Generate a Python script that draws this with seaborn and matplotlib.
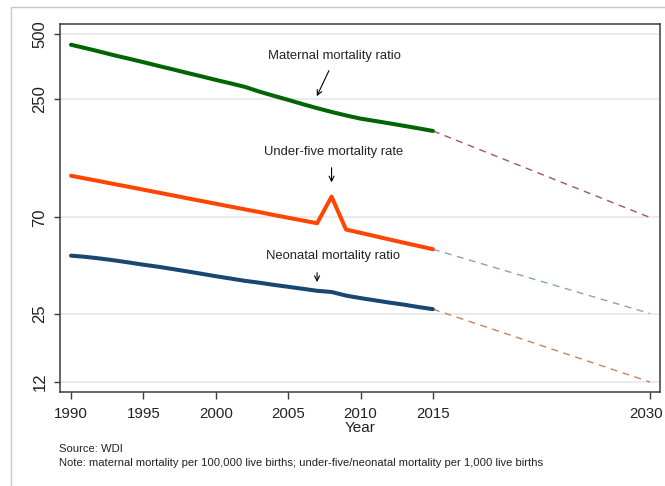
import matplotlib
matplotlib.use("Agg")
import matplotlib.pyplot as plt
import matplotlib.transforms as mtransforms
import pandas as pd
import seaborn as sns
from matplotlib.patches import Rectangle
from matplotlib.ticker import FixedLocator, FixedFormatter, NullLocator

# Observed series, 1990-2015
years = list(range(1990, 2016))
maternal = [446, 430, 414, 398, 384, 370, 356, 343, 330, 318,
            306, 295, 284, 270, 258, 247, 236, 226, 217, 209,
            202, 197, 192, 187, 182, 177]
under_five = [109.5, 106.3, 103.2, 100.1, 97.2, 94.3, 91.5, 88.8, 86.1, 83.6,
              81.1, 78.7, 76.4, 74.2, 71.9, 69.8, 67.8, 65.8, 87.5, 61.5,
              59.4, 57.3, 55.3, 53.4, 51.6, 49.8]
neonatal = [46.5, 45.9, 45.1, 44.2, 43.2, 42.2, 41.3, 40.3, 39.3, 38.3,
            37.3, 36.4, 35.5, 34.8, 34.0, 33.3, 32.6, 31.9, 31.5, 30.3,
            29.5, 28.8, 28.1, 27.5, 26.8, 26.2]

# 2030 targets
target_year = 2030
maternal_target = 70
under_five_target = 25
neonatal_target = 12

y_ticks = [12, 25, 70, 250, 500]
x_ticks = [1990, 1995, 2000, 2005, 2010, 2015, 2030]

series_names = ["Maternal", "Under-five", "Neonatal"]
series_values = [maternal, under_five, neonatal]
series_targets = [maternal_target, under_five_target, neonatal_target]
solid_colors = ["#006400", "#ff4500", "#1a476f"]
dashed_colors = ["#a3575c", "#8aa89d", "#c8835f"]

sns.set_style("ticks")
plt.rcParams["font.family"] = ["Liberation Sans", "DejaVu Sans"]

fig = plt.figure(figsize=(6.65, 4.86), dpi=100)
ax = fig.add_axes([60 / 665, 1 - 392 / 486, 600 / 665, 368 / 486])

observed = pd.DataFrame({
    "Year": years * 3,
    "value": maternal + under_five + neonatal,
    "series": sum([[n] * len(years) for n in series_names], []),
})

for name, vals, tgt, dcol in zip(series_names, series_values, series_targets, dashed_colors):
    proj = pd.DataFrame({"Year": [years[-1], target_year], "value": [vals[-1], tgt]})
    sns.lineplot(data=proj, x="Year", y="value", color=dcol, linewidth=1.0,
                 linestyle=(0, (5, 4)), ax=ax, zorder=2)

sns.lineplot(data=observed, x="Year", y="value", hue="series",
             hue_order=series_names, palette=solid_colors, linewidth=2.9,
             legend=False, ax=ax, zorder=3)

ax.set_yscale("log")
ax.set_ylim(10.78, 557)
ax.set_xlim(1989.24, 2030.69)
ax.yaxis.set_major_locator(FixedLocator(y_ticks))
ax.yaxis.set_major_formatter(FixedFormatter([str(t) for t in y_ticks]))
ax.yaxis.set_minor_locator(NullLocator())
ax.xaxis.set_major_locator(FixedLocator(x_ticks))
ax.xaxis.set_major_formatter(FixedFormatter([str(t) for t in x_ticks]))

ax.grid(axis="y", color="#e6e6e6", linewidth=1.1, zorder=0)
ax.grid(axis="x", visible=False)
ax.set_axisbelow(True)
for side in ["left", "bottom", "top", "right"]:
    ax.spines[side].set_color("#3c3c3c")
    ax.spines[side].set_linewidth(1.1)

ax.tick_params(axis="y", length=4, width=1, color="#3c3c3c", pad=5,
               labelsize=12, labelcolor="#222222")
ax.tick_params(axis="x", length=5, width=1, color="#3c3c3c", pad=6,
               labelsize=10.8, labelcolor="#222222")
for lab in ax.get_yticklabels():
    lab.set_rotation(90)
    lab.set_va("center")

# keep the last year label inside the canvas
last = ax.get_xticklabels()[-1]
last.set_transform(last.get_transform() +
                   mtransforms.ScaledTranslation(-4 / 100, 0, fig.dpi_scale_trans))

ax.set_ylabel("")
ax.set_xlabel("Year", fontsize=11, color="#222222", labelpad=0)

# Series labels with arrows
label_kw = dict(ha="center", va="center", fontsize=9.4, color="#222222")
arrow_kw = dict(arrowstyle="->", color="black", lw=0.8, mutation_scale=9)

ax.text(2008.17, 395, "Maternal mortality ratio", **label_kw)
ax.annotate("", xy=(2006.9, 250), xytext=(2007.9, 347), arrowprops=arrow_kw)

ax.text(2008.15, 141, "Under-five mortality rate", **label_kw)
ax.annotate("", xy=(2008.0, 99), xytext=(2008.0, 123), arrowprops=arrow_kw)

ax.text(2008.1, 46.3, "Neonatal mortality ratio", **label_kw)
ax.annotate("", xy=(2007.0, 34), xytext=(2007.0, 39.9), arrowprops=arrow_kw)

fig.text(59 / 665, 1 - 449 / 486, "Source: WDI", ha="left", va="center",
         fontsize=8.1, color="#222222")
fig.text(59 / 665, 1 - 463 / 486,
         "Note: maternal mortality per 100,000 live births; under-five/neonatal mortality per 1,000 live births",
         ha="left", va="center", fontsize=8.1, color="#222222")

# Thin frame around the graph region
fig.patches.append(Rectangle((11 / 665, -0.05), 1.0, 1 - 7 / 486 + 0.05,
                             transform=fig.transFigure, fill=False,
                             edgecolor="#c8c8c8", linewidth=1.0))

fig.savefig("out.png", dpi=100)
